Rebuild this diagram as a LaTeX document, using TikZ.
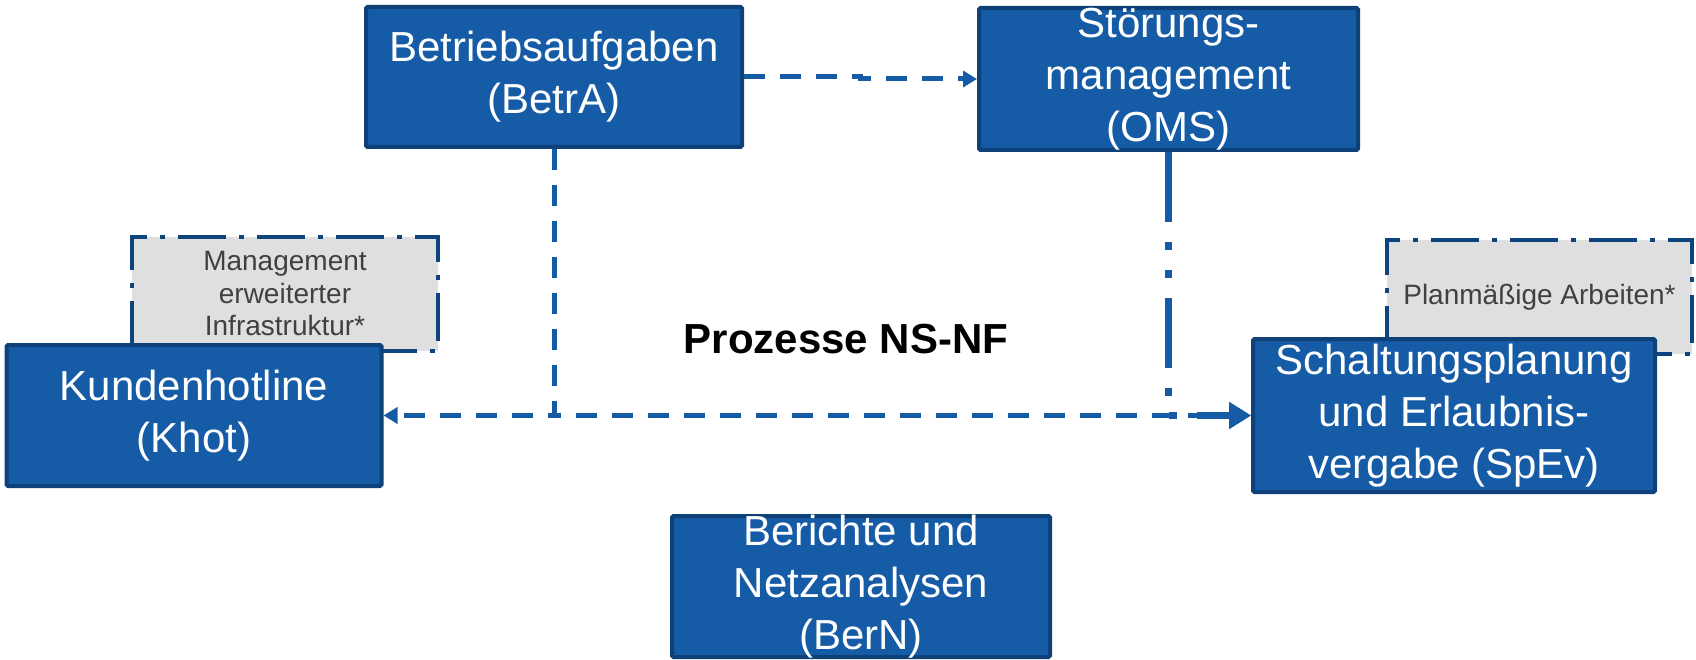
\documentclass[tikz,border=0pt]{standalone}
\usepackage{fontspec}
\setmainfont{Liberation Sans}
\usetikzlibrary{arrows.meta}

\definecolor{boxfill}{HTML}{155BA6}
\definecolor{boxedge}{HTML}{0D4178}
\definecolor{linkblue}{HTML}{155BA6}
\definecolor{extfill}{HTML}{DFDFDF}
\definecolor{extedge}{HTML}{0E447E}
\definecolor{exttext}{HTML}{404040}

\tikzset{
  procbox/.style={draw=boxedge, fill=boxfill, line width=4pt, rounded corners=1.5pt,
    inner sep=0pt},
  proctext/.style={text=white, align=center, inner sep=0pt,
    font=\fontsize{42}{52}\selectfont},
  extbox/.style={draw=extedge, fill=extfill, line width=4pt,
    dash pattern=on 48pt off 13pt on 5pt off 13pt, inner sep=0pt},
  exttextstyle/.style={text=exttext, align=center, inner sep=0pt,
    font=\fontsize{28}{32.5}\selectfont},
  dashlink/.style={draw=linkblue, line width=5pt, dash pattern=on 21pt off 15pt,
    -{Triangle[length=14pt,width=16pt]}},
  dotlink/.style={draw=linkblue, line width=7pt,
    dash pattern=on 70pt off 20pt on 8pt off 20pt on 8pt off 20pt,
    -{Triangle[length=22pt,width=26pt]}},
}

\begin{document}
\begin{tikzpicture}[x=1pt, y=-1pt]
  \useasboundingbox (0,0) rectangle (1696,660);

  % grey side boxes (lie behind the main boxes)
  \node[extbox, minimum width=306pt, minimum height=114pt] (ext1) at (285,294) {};
  \node[exttextstyle] (ext1t) at (ext1.center) {Management\\erweiterter\\Infrastruktur*};
  \node[extbox, minimum width=305pt, minimum height=114pt] (ext2) at (1539.5,297) {};
  \node[exttextstyle] (ext2t) at (ext2.center) {Planmäßige Arbeiten*};

  % main process boxes
  \node[procbox, minimum width=376pt, minimum height=140pt] (betra) at (554,77) {};
  \node[proctext] (betrat) at (betra.center) {Betriebsaufgaben\\(BetrA)};

  \node[procbox, minimum width=379pt, minimum height=142pt] (oms) at (1168.5,79) {};
  \node[proctext] (omst) at (oms.center) {Störungs-\\management\\(OMS)};

  \node[procbox, minimum width=375pt, minimum height=141pt] (khot) at (194,415.5) {};
  \node[proctext] (khott) at (khot.center) {Kundenhotline\\(Khot)};

  \node[procbox, minimum width=402pt, minimum height=153pt] (spev) at (1454,415.5) {};
  \node[proctext] (spevt) at (spev.center) {Schaltungsplanung\\und Erlaubnis-\\vergabe (SpEv)};

  \node[procbox, minimum width=378pt, minimum height=141pt] (bern) at (861,586.5) {};
  \node[proctext] (bernt) at (bern.center) {Berichte und\\Netzanalysen\\(BerN)};

  % centre caption
  \node[inner sep=0pt, font=\fontsize{42}{52}\selectfont\bfseries] (title) at (846,339) {Prozesse NS-NF};

  % connectors
  \coordinate (jog) at (860,0);
  \draw[dashlink] (betra.east) -- (betra.east -| jog) -- (oms.west -| jog) -- (oms.west);
  \draw[dashlink] (betra.south) |- (khot.east);
  \draw[dashlink] (betra.south) |- (spev.west);
  \draw[dotlink] (oms.south) |- (spev.west);
\end{tikzpicture}
\end{document}
